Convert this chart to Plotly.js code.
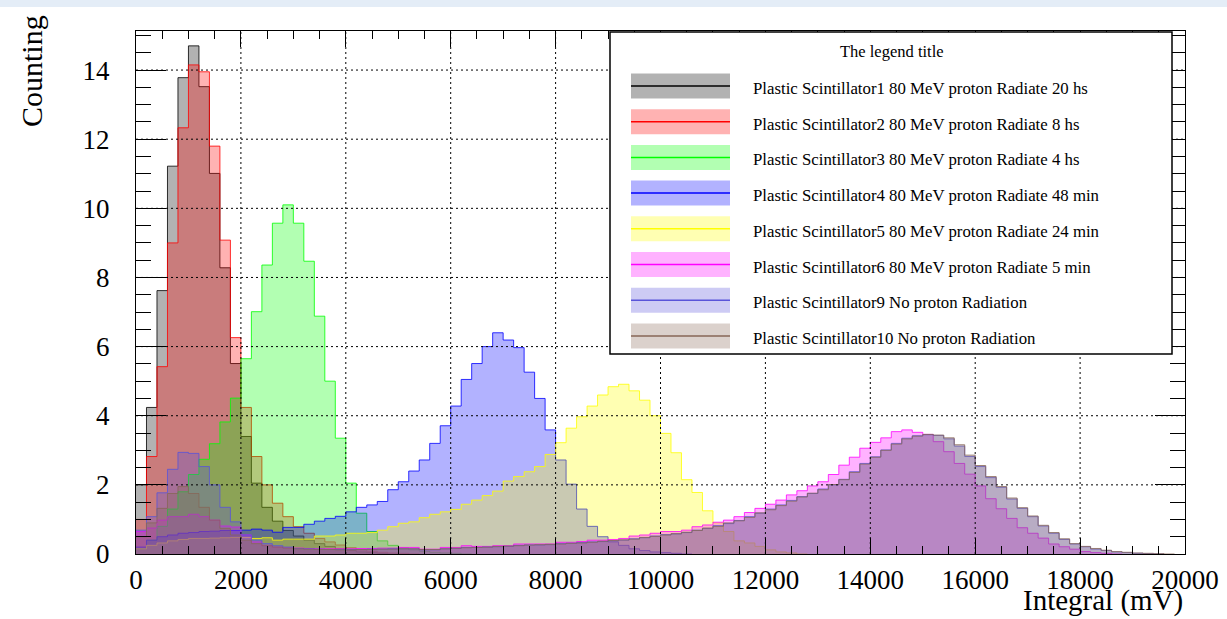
<!DOCTYPE html>
<html>
<head>
<meta charset="utf-8">
<script src="https://cdn.plot.ly/plotly-3.0.1.min.js"></script>
<style>
  html, body { margin: 0; padding: 0; background: #ffffff; }
  #topbar { position: absolute; left: 0; top: 0; width: 1227px; height: 7px; background: #e4edf7; z-index: 2; }
  #plot { width: 1227px; height: 619px; }
</style>
</head>
<body>
<div id="topbar"></div>
<div id="plot"></div>
<script>
// Histogram binning: 200 mV bins starting at 0 mV
const binWidth = 200;

// Sample labels (legend text)
const labels = [
  "Plastic Scintillator1 80 MeV proton Radiate 20 hs",
  "Plastic Scintillator2 80 MeV proton Radiate 8 hs",
  "Plastic Scintillator3 80 MeV proton Radiate 4 hs",
  "Plastic Scintillator4 80 MeV proton Radiate 48 min",
  "Plastic Scintillator5 80 MeV proton Radiate 24 min",
  "Plastic Scintillator6 80 MeV proton Radiate 5 min",
  "Plastic Scintillator9 No proton Radiation",
  "Plastic Scintillator10 No proton Radiation"
];

// Base colours (r, g, b) of each sample
const baseColors = [
  [0, 0, 0],
  [255, 0, 0],
  [0, 255, 0],
  [0, 0, 255],
  [255, 255, 0],
  [255, 0, 255],
  [89, 84, 217],
  [135, 102, 87]
];

// Counts per bin
const counts1 = [2.00, 4.24, 7.62, 11.22, 13.78, 14.70, 13.52, 11.01, 8.28, 5.51,
  3.40, 2.05, 1.35, 0.95, 0.68, 0.52, 0.40, 0.30, 0.22, 0.15,
  0.10, 0.06, 0.04, 0.02, 0];

const counts2 = [1.00, 2.82, 5.42, 9.00, 12.33, 14.15, 13.95, 11.80, 9.08, 6.26,
  4.24, 2.82, 2.00, 1.47, 1.08, 0.79, 0.60, 0.45, 0.35, 0.26,
  0.18, 0.12, 0.08, 0.05, 0.03, 0.02, 0];

const counts3 = [0.15, 0.40, 0.80, 1.30, 1.80, 2.30, 2.74, 3.19, 3.82, 4.51,
  5.65, 7.01, 8.36, 9.57, 10.10, 9.57, 8.47, 6.88, 5.00, 3.35,
  2.05, 1.18, 0.65, 0.38, 0.25, 0.18, 0.12, 0.08, 0.05, 0.03,
  0.02, 0];

const counts4 = [0.20, 0.40, 0.50, 0.55, 0.60, 0.62, 0.65, 0.66, 0.68, 0.68,
  0.69, 0.72, 0.69, 0.63, 0.77, 0.77, 0.86, 0.95, 1.03, 1.09,
  1.22, 1.35, 1.42, 1.52, 1.86, 2.09, 2.40, 2.72, 3.20, 3.71,
  4.28, 5.05, 5.51, 6.00, 6.40, 6.19, 5.97, 5.26, 4.50, 3.59,
  2.72, 2.02, 1.30, 0.80, 0.50, 0.35, 0.25, 0.15, 0.10, 0.06,
  0.04, 0.02, 0];

const counts5 = [0.15, 0.25, 0.32, 0.38, 0.42, 0.45, 0.45, 0.46, 0.47, 0.48,
  0.48, 0.45, 0.47, 0.40, 0.43, 0.43, 0.43, 0.52, 0.52, 0.55,
  0.60, 0.60, 0.62, 0.69, 0.79, 0.89, 0.93, 1.05, 1.15, 1.22,
  1.29, 1.44, 1.56, 1.69, 1.82, 2.11, 2.24, 2.38, 2.53, 2.88,
  3.22, 3.64, 3.97, 4.28, 4.60, 4.84, 4.91, 4.72, 4.45, 4.00,
  3.49, 2.93, 2.15, 1.78, 1.25, 0.90, 0.65, 0.38, 0.32, 0.22,
  0.12, 0.06, 0.03, 0];

const counts6 = [0.65, 0.75, 0.98, 1.08, 1.08, 1.15, 1.08, 0.98, 0.81, 0.78,
  0.55, 0.35, 0.25, 0.20, 0.18, 0.17, 0.16, 0.15, 0.15, 0.15,
  0.15, 0.16, 0.16, 0.17, 0.17, 0.19, 0.19, 0.14, 0.14, 0.19,
  0.19, 0.24, 0.22, 0.22, 0.24, 0.24, 0.29, 0.29, 0.29, 0.29,
  0.34, 0.34, 0.36, 0.40, 0.40, 0.42, 0.45, 0.52, 0.55, 0.60,
  0.65, 0.65, 0.69, 0.79, 0.84, 0.92, 0.98, 1.08, 1.20, 1.32,
  1.44, 1.56, 1.71, 1.83, 1.97, 2.09, 2.30, 2.57, 2.80, 3.06,
  3.23, 3.36, 3.54, 3.59, 3.52, 3.46, 3.25, 2.96, 2.62, 2.31,
  1.97, 1.60, 1.31, 1.03, 0.76, 0.60, 0.46, 0.29, 0.21, 0.14,
  0.07, 0.04, 0.02, 0];

const counts9 = [0.69, 1.08, 1.77, 2.45, 2.94, 2.91, 2.53, 2.00, 1.35, 0.93,
  0.55, 0.40, 0.30, 0.24, 0.20, 0.16, 0.15, 0.14, 0.13, 0.13,
  0.13, 0.13, 0.14, 0.14, 0.15, 0.15, 0.15, 0.12, 0.12, 0.15,
  0.16, 0.19, 0.19, 0.20, 0.21, 0.22, 0.25, 0.26, 0.26, 0.27,
  0.30, 0.31, 0.33, 0.35, 0.36, 0.38, 0.40, 0.44, 0.47, 0.52,
  0.56, 0.58, 0.62, 0.69, 0.74, 0.82, 0.88, 0.97, 1.08, 1.18,
  1.30, 1.42, 1.55, 1.66, 1.75, 1.88, 2.00, 2.16, 2.38, 2.62,
  2.81, 3.01, 3.20, 3.35, 3.42, 3.45, 3.43, 3.33, 3.12, 2.82,
  2.53, 2.21, 1.93, 1.59, 1.32, 1.08, 0.81, 0.60, 0.42, 0.29,
  0.21, 0.14, 0.10, 0.06, 0.04, 0.02, 0.01, 0];

const counts10 = [0.50, 0.90, 1.32, 1.75, 1.95, 1.75, 1.35, 0.98, 0.74, 0.55,
  0.40, 0.30, 0.24, 0.20, 0.17, 0.15, 0.14, 0.13, 0.13, 0.12,
  0.12, 0.13, 0.13, 0.14, 0.14, 0.15, 0.15, 0.13, 0.13, 0.15,
  0.17, 0.18, 0.19, 0.20, 0.22, 0.23, 0.24, 0.26, 0.27, 0.28,
  0.29, 0.31, 0.32, 0.34, 0.37, 0.39, 0.41, 0.43, 0.48, 0.51,
  0.55, 0.59, 0.63, 0.68, 0.75, 0.80, 0.90, 0.96, 1.06, 1.19,
  1.28, 1.40, 1.53, 1.65, 1.76, 1.86, 2.01, 2.15, 2.36, 2.60,
  2.80, 3.00, 3.18, 3.33, 3.41, 3.46, 3.44, 3.36, 3.16, 2.86,
  2.56, 2.24, 1.95, 1.62, 1.34, 1.10, 0.83, 0.62, 0.44, 0.30,
  0.22, 0.16, 0.11, 0.07, 0.05, 0.03, 0.02, 0.01, 0];

const allCounts = [counts1, counts2, counts3, counts4, counts5, counts6, counts9, counts10];

// Axis ticks
const xTicks = [0, 2000, 4000, 6000, 8000, 10000, 12000, 14000, 16000, 18000, 20000];
const yTicks = [0, 2, 4, 6, 8, 10, 12, 14];

const rgba = (c, a) => `rgba(${c[0]},${c[1]},${c[2]},${a})`;
const FONT = "Liberation Serif, Times New Roman, serif";

// Step-outlined, semi-transparent filled histograms
const traces = allCounts.map((counts, i) => {
  const x = [], y = [];
  counts.forEach((v, k) => { x.push(k * binWidth); y.push(v); });
  x.push(counts.length * binWidth);
  y.push(counts[counts.length - 1]);
  return {
    type: "scatter",
    mode: "lines",
    name: labels[i],
    x: x,
    y: y,
    line: { shape: "hv", width: 1, color: rgba(baseColors[i], 0.8) },
    fill: "tozeroy",
    fillcolor: rgba(baseColors[i], 0.3),
    hoverinfo: "skip"
  };
});

// Plot area geometry in pixels
const M = { l: 136, r: 42, t: 31, b: 65 };
const W = 1227 - M.l - M.r;
const H = 619 - M.t - M.b;
const px = (p) => (p - M.l) / W;
const py = (p) => (M.t + H - p) / H;

const shapes = [];
const annotations = [];

// Dotted grid lines on top of the filled histograms
xTicks.slice(1, -1).forEach(v => shapes.push({
  type: "line", layer: "above", xref: "x", yref: "paper",
  x0: v, x1: v, y0: 0, y1: 1,
  line: { color: "#000", width: 1, dash: "2px,3px" }
}));
yTicks.slice(1).forEach(v => shapes.push({
  type: "line", layer: "above", xref: "paper", yref: "y",
  x0: 0, x1: 1, y0: v, y1: v,
  line: { color: "#000", width: 1, dash: "2px,3px" }
}));

// Legend box
shapes.push({
  type: "rect", layer: "above", xref: "paper", yref: "paper",
  x0: px(610), x1: px(1172), y0: py(354), y1: py(32),
  fillcolor: "#ffffff", line: { color: "#000", width: 1.5 }
});
annotations.push({
  xref: "paper", yref: "paper", x: px(892), y: py(52),
  xanchor: "center", yanchor: "middle", showarrow: false,
  text: "The legend title", font: { family: FONT, size: 16.5, color: "#000" }
});
labels.forEach((lab, i) => {
  const cy = 86 + 35.7 * i;
  shapes.push({
    type: "rect", layer: "above", xref: "paper", yref: "paper",
    x0: px(631), x1: px(730), y0: py(cy + 12.5), y1: py(cy - 12.5),
    fillcolor: rgba(baseColors[i], 0.3), line: { width: 0 }
  });
  shapes.push({
    type: "line", layer: "above", xref: "paper", yref: "paper",
    x0: px(631), x1: px(730), y0: py(cy), y1: py(cy),
    line: { color: rgba(baseColors[i], 1), width: 1.5 }
  });
  annotations.push({
    xref: "paper", yref: "paper", x: px(751), y: py(cy + 2.5),
    xanchor: "left", yanchor: "middle", showarrow: false,
    text: lab, font: { family: FONT, size: 16.8, color: "#000" }
  });
});

// Axis titles
annotations.push({
  xref: "paper", yref: "paper", x: px(31), y: py(71),
  xanchor: "center", yanchor: "middle", showarrow: false, textangle: -90,
  text: "Counting", font: { family: FONT, size: 30, color: "#000" }
});
annotations.push({
  xref: "paper", yref: "paper", x: 1, y: py(619),
  xanchor: "right", yanchor: "bottom", showarrow: false,
  text: "Integral (mV)", font: { family: FONT, size: 29, color: "#000" }
});

const layout = {
  width: 1227, height: 619,
  margin: M,
  paper_bgcolor: "#ffffff",
  plot_bgcolor: "#ffffff",
  showlegend: false,
  hovermode: false,
  xaxis: {
    range: [0, 20000],
    tickvals: xTicks,
    ticktext: xTicks.map(String),
    ticks: "inside", ticklen: 16, tickwidth: 1, tickcolor: "#000",
    minor: { dtick: 500, tick0: 0, ticks: "inside", ticklen: 8, tickwidth: 1, tickcolor: "#000" },
    showline: true, linecolor: "#000", linewidth: 1, mirror: "ticks",
    showgrid: false, zeroline: false,
    ticklabelstandoff: 2,
    tickfont: { family: FONT, size: 27, color: "#000" }
  },
  yaxis: {
    range: [0, 15.13],
    tickvals: yTicks,
    ticktext: yTicks.map(String),
    ticks: "inside", ticklen: 30, tickwidth: 1, tickcolor: "#000",
    minor: { dtick: 0.5, tick0: 0, ticks: "inside", ticklen: 15, tickwidth: 1, tickcolor: "#000" },
    showline: true, linecolor: "#000", linewidth: 1, mirror: "ticks",
    showgrid: false, zeroline: false,
    ticklabelstandoff: 20,
    tickfont: { family: FONT, size: 27, color: "#000" }
  },
  shapes: shapes,
  annotations: annotations
};

Plotly.newPlot("plot", traces, layout, { staticPlot: true, displayModeBar: false });
</script>
</body>
</html>
